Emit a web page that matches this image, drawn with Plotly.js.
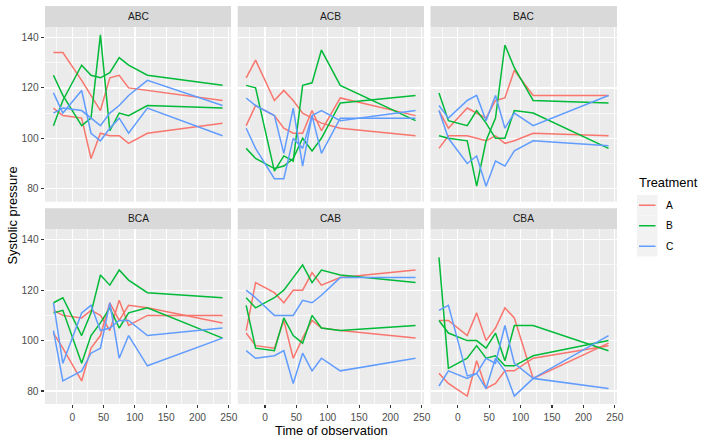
<!DOCTYPE html>
<html><head><meta charset="utf-8">
<script src="https://cdn.plot.ly/plotly-3.0.1.min.js"></script>
<style>html,body{margin:0;padding:0;background:#fff}#chart{width:708px;height:443px}</style>
</head><body><div id="chart"></div>
<script>
// ---- data ----
const times = [-30, -15, 15, 30, 45, 60, 75, 90, 120, 240];
const sequences = ['ABC', 'ACB', 'BAC', 'BCA', 'CAB', 'CBA'];
const treatments = ['A', 'B', 'C'];
const xTickVals = [0, 50, 100, 150, 200, 250];
const yTickVals = [80, 100, 120, 140];

const ABC_A1 = [134, 134, 123, 117, 111, 124, 125, 120, 119, 115];
const ABC_A2 = [112, 109, 108, 92, 102, 101, 101, 98, 102, 106];
const ABC_B1 = [105, 115, 129, 125, 124, 126, 132, 129, 125, 121];
const ABC_B2 = [125, 117, 105, 108, 141, 103, 110, 109, 113, 112];
const ABC_C1 = [118, 110, 119, 102, 99, 104, 108, 102, 112, 101];
const ABC_C2 = [110, 112, 111, 108, 105, 110, 113, 117, 123, 113];

const ACB_A1 = [124, 131, 115, 119, 115, 110, 108, 106, 104, 101];
const ACB_A2 = [105, 113, 109, 104, 102, 102, 111, 103, 116, 109];
const ACB_B1 = [121, 120, 87, 93, 91, 121, 122, 135, 121, 107];
const ACB_B2 = [96, 92, 88, 89, 92, 100, 95, 100, 114, 117];
const ACB_C1 = [116, 113, 109, 94, 112, 89, 109, 94, 108, 108];
const ACB_C2 = [104, 96, 84, 84, 100, 96, 109, 111, 107, 111];

const BAC_A1 = [111, 104, 112, 110, 108, 115, 116, 127, 117, 117];
const BAC_A2 = [96, 101, 101, 100, 99, 101, 98, 99, 102, 101];
const BAC_B1 = [118, 107, 105, 111, 106, 100, 100, 111, 110, 96];
const BAC_B2 = [101, 100, 99, 81, 99, 108, 137, 128, 115, 114];
const BAC_C1 = [113, 108, 115, 117, 107, 117, 104, 110, 105, 117];
const BAC_C2 = [111, 100, 90, 93, 81, 91, 89, 95, 99, 97];

const BCA_A1 = [112, 110, 109, 112, 110, 104, 116, 106, 110, 110];
const BCA_A2 = [103, 97, 84, 97, 102, 115, 108, 114, 113, 107];
const BCA_B1 = [115, 117, 102, 111, 126, 122, 128, 124, 119, 117];
const BCA_B2 = [111, 112, 91, 102, 107, 113, 105, 111, 113, 101];
const BCA_C1 = [115, 91, 111, 114, 104, 105, 108, 108, 102, 105];
const BCA_C2 = [104, 84, 88, 95, 97, 115, 93, 102, 90, 101];

const CAB_A1 = [104, 123, 119, 115, 120, 120, 127, 122, 125, 128];
const CAB_A2 = [103, 98, 97, 108, 93, 101, 108, 105, 104, 101];
const CAB_B1 = [117, 113, 117, 120, 125, 130, 123, 128, 126, 123];
const CAB_B2 = [114, 97, 96, 109, 102, 99, 110, 105, 104, 106];
const CAB_C1 = [120, 117, 110, 110, 110, 116, 115, 118, 125, 125];
const CAB_C2 = [96, 93, 94, 96, 83, 95, 88, 93, 88, 93];

const CBA_A1 = [108, 108, 102, 111, 100, 105, 113, 109, 85, 99];
const CBA_A2 = [87, 83, 78, 92, 81, 83, 88, 88, 93, 98];
const CBA_B1 = [133, 89, 93, 98, 93, 94, 90, 90, 94, 100];
const CBA_B2 = [108, 103, 100, 100, 97, 103, 92, 106, 106, 96];
const CBA_C1 = [112, 114, 86, 87, 93, 91, 106, 91, 85, 102];
const CBA_C2 = [82, 88, 85, 87, 81, 93, 88, 78, 85, 81];

const seriesBySequence = {
  ABC: [[ABC_A1, ABC_A2], [ABC_B1, ABC_B2], [ABC_C1, ABC_C2]],
  ACB: [[ACB_A1, ACB_A2], [ACB_B1, ACB_B2], [ACB_C1, ACB_C2]],
  BAC: [[BAC_A1, BAC_A2], [BAC_B1, BAC_B2], [BAC_C1, BAC_C2]],
  BCA: [[BCA_A1, BCA_A2], [BCA_B1, BCA_B2], [BCA_C1, BCA_C2]],
  CAB: [[CAB_A1, CAB_A2], [CAB_B1, CAB_B2], [CAB_C1, CAB_C2]],
  CBA: [[CBA_A1, CBA_A2], [CBA_B1, CBA_B2], [CBA_C1, CBA_C2]]
};

// ---- styling / layout ----
const W = 708, H = 443;
const colors = ['#F8766D', '#00BA38', '#619CFF'];
const FONT = 'Liberation Sans, Arial, Helvetica, sans-serif';
const colPx = [[45, 231], [237.7, 424], [430.5, 617]];
const rowPx = [[27, 201.7], [229.3, 404]];
const stripH = 21;
const px2x = p => p / W;
const px2y = p => 1 - p / H;

const traces = [];
const layout = {
  width: W, height: H,
  margin: {l: 0, r: 0, t: 0, b: 0},
  paper_bgcolor: '#FFFFFF',
  plot_bgcolor: '#EBEBEB',
  showlegend: false,
  font: {family: FONT, color: '#4D4D4D'},
  shapes: [],
  annotations: []
};

sequences.forEach((seq, i) => {
  const row = Math.floor(i / 3), col = i % 3;
  const n = i + 1;
  const xa = 'xaxis' + (n === 1 ? '' : n), ya = 'yaxis' + (n === 1 ? '' : n);
  const xr = 'x' + (n === 1 ? '' : n), yr = 'y' + (n === 1 ? '' : n);
  layout[xa] = {
    domain: [px2x(colPx[col][0]), px2x(colPx[col][1])],
    anchor: yr,
    range: [-43.5, 253.5],
    tickmode: 'array', tickvals: xTickVals,
    showticklabels: row === 1,
    ticks: row === 1 ? 'outside' : '',
    ticklen: 3.4, tickwidth: 1.1, tickcolor: '#333333',
    tickfont: {size: 10.2, color: '#4D4D4D', family: FONT},
    showgrid: true, gridcolor: '#FFFFFF', gridwidth: 1.3,
    minor: {tickvals: [-25, 25, 75, 125, 175, 225], showgrid: true, gridcolor: '#FFFFFF', gridwidth: 0.65, ticks: ''},
    zeroline: false, showline: false, fixedrange: true
  };
  layout[ya] = {
    domain: [px2y(rowPx[row][1]), px2y(rowPx[row][0])],
    anchor: xr,
    range: [74.85, 144.15],
    tickmode: 'array', tickvals: yTickVals,
    showticklabels: col === 0,
    ticks: col === 0 ? 'outside' : '',
    ticklen: 3.4, tickwidth: 1.1, tickcolor: '#333333',
    tickfont: {size: 10.2, color: '#4D4D4D', family: FONT},
    showgrid: true, gridcolor: '#FFFFFF', gridwidth: 1.3,
    minor: {tickvals: [90, 110, 130], showgrid: true, gridcolor: '#FFFFFF', gridwidth: 0.65, ticks: ''},
    zeroline: false, showline: false, fixedrange: true
  };
  // strip
  layout.shapes.push({
    type: 'rect', xref: 'paper', yref: 'paper', layer: 'below',
    x0: px2x(colPx[col][0]), x1: px2x(colPx[col][1]),
    y0: px2y(rowPx[row][0]), y1: px2y(rowPx[row][0] - stripH),
    fillcolor: '#D9D9D9', line: {width: 0}
  });
  layout.annotations.push({
    xref: 'paper', yref: 'paper', showarrow: false,
    x: px2x((colPx[col][0] + colPx[col][1]) / 2), y: px2y(rowPx[row][0] - stripH / 2),
    xanchor: 'center', yanchor: 'middle',
    text: seq, font: {size: 10.2, color: '#1A1A1A', family: FONT}
  });
  // lines
  seriesBySequence[seq].forEach((subjects, t) => {
    subjects.forEach(vals => {
      traces.push({
        type: 'scatter', mode: 'lines', x: times, y: vals,
        xaxis: xr, yaxis: yr, name: treatments[t],
        line: {color: colors[t], width: 1.5}, hoverinfo: 'skip'
      });
    });
  });
});

// axis titles
layout.annotations.push({
  xref: 'paper', yref: 'paper', showarrow: false,
  x: px2x(331), y: px2y(430), xanchor: 'center', yanchor: 'middle',
  text: 'Time of observation', font: {size: 12.9, color: '#000000', family: FONT}
});
layout.annotations.push({
  xref: 'paper', yref: 'paper', showarrow: false, textangle: -90,
  x: px2x(12), y: px2y(215.5), xanchor: 'center', yanchor: 'middle',
  text: 'Systolic pressure', font: {size: 12.9, color: '#000000', family: FONT}
});

// legend (drawn manually, ggplot-style)
layout.annotations.push({
  xref: 'paper', yref: 'paper', showarrow: false,
  x: px2x(636.5), y: px2y(182.7), xanchor: 'left', yanchor: 'middle',
  text: 'Treatment', font: {size: 12.9, color: '#000000', family: FONT}
});
const keyTop = 195, keyH = 20.5;
treatments.forEach((tr, k) => {
  const y0 = keyTop + k * keyH, yc = y0 + keyH / 2;
  layout.shapes.push({
    type: 'rect', xref: 'paper', yref: 'paper',
    x0: px2x(637), x1: px2x(657.5), y0: px2y(y0 + keyH), y1: px2y(y0),
    fillcolor: '#F2F2F2', line: {width: 0}
  });
  layout.shapes.push({
    type: 'line', xref: 'paper', yref: 'paper',
    x0: px2x(639), x1: px2x(655.5), y0: px2y(yc), y1: px2y(yc),
    line: {color: colors[k], width: 1.5}
  });
  layout.annotations.push({
    xref: 'paper', yref: 'paper', showarrow: false,
    x: px2x(664), y: px2y(yc), xanchor: 'left', yanchor: 'middle',
    text: tr, font: {size: 10.2, color: '#000000', family: FONT}
  });
});

Plotly.newPlot('chart', traces, layout, {displayModeBar: false, staticPlot: true});
</script></body></html>
